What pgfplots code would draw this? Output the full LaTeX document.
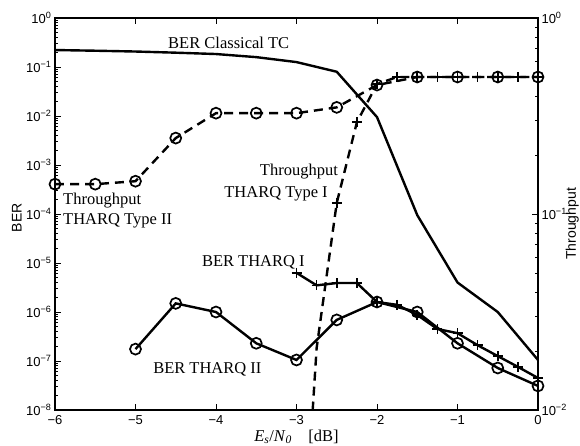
\documentclass[border=0pt]{standalone}
\usepackage{fontspec}
\setmainfont{Liberation Serif}
\setsansfont{Liberation Sans}
\usepackage{pgfplots}
\pgfplotsset{compat=1.18}

\pgfplotsset{
  myaxis/.style={
    scale only axis, width=483pt, height=392pt,
    xmin=-6, xmax=0,
    tick align=inside,
    major tick length=6pt, minor tick length=3pt,
    every tick/.style={black, line width=0.9pt},
    axis line style={line width=1.4pt},
    tick label style={font=\sffamily\fontsize{13}{13}\selectfont},
  },
  solidline/.style={black, line width=2.4pt},
  dashline/.style={black, line width=2.4pt, dash pattern=on 9pt off 6pt},
}
\newcommand{\lbl}{\fontsize{16.5}{18}\selectfont}

\begin{document}
\begin{tikzpicture}
% left axis: BER
\begin{semilogyaxis}[myaxis,
  ymin=1e-8, ymax=1,
  xtick={-6,-5,-4,-3,-2,-1,0},
  xticklabels={−6,−5,−4,−3,−2,−1,0},
  xticklabel style={yshift=-2pt},
  ytick={1e-8,1e-7,1e-6,1e-5,1e-4,1e-3,1e-2,1e-1,1},
  yticklabels={10\textsuperscript{−8},10\textsuperscript{−7},10\textsuperscript{−6},10\textsuperscript{−5},10\textsuperscript{−4},10\textsuperscript{−3},10\textsuperscript{−2},10\textsuperscript{−1},10\textsuperscript{0}},
  ytick pos=left, xtick pos=both,
  ylabel={BER},
  ylabel style={font=\sffamily\fontsize{14}{14}\selectfont, at={(axis description cs:-0.079,0.49)}, anchor=center},
  xlabel={\textit{E}\textsubscript{\textit{s}}/\textit{N}\textsubscript{\textit{0}}\quad[dB]},
  xlabel style={font=\lbl, at={(axis description cs:0.5,-0.068)}, anchor=center},
]
\coordinate (ll) at (rel axis cs:0,0);
\coordinate (ur) at (rel axis cs:1,1);

% BER classical TC
\addplot[solidline] coordinates {
(-6,0.222) (-5.5,0.215) (-5,0.207) (-4.5,0.196) (-4,0.184) (-3.5,0.159) (-3,0.126)
(-2.5,0.08) (-2,0.0095) (-1.5,9.5e-5) (-1,4e-6) (-0.5,1e-6) (0,1.05e-7)};

% BER THARQ I
\addplot[solidline, mark=+, mark size=5pt, mark options={line width=1.7pt}] coordinates {
(-3,6.3e-6) (-2.75,3.5e-6) (-2.5,3.9e-6) (-2.25,3.9e-6) (-2,1.6e-6) (-1.75,1.4e-6)
(-1.5,8.7e-7) (-1.25,4.5e-7) (-1,3.7e-7) (-0.75,2.1e-7) (-0.5,1.26e-7) (-0.25,7.6e-8) (0,4.5e-8)};

% BER THARQ II
\addplot[solidline, mark=o, mark size=5.5pt, mark options={fill=white, line width=1.7pt}] coordinates {
(-5,1.75e-7) (-4.5,1.5e-6) (-4,1.0e-6) (-3.5,2.3e-7) (-3,1.05e-7) (-2.5,6.9e-7)
(-2,1.6e-6) (-1.5,1.0e-6) (-1,2.3e-7) (-0.5,7.2e-8) (0,3.1e-8)};

\node[font=\lbl, anchor=base west, inner sep=0pt] at (rel axis cs:0.234,0.923) {BER Classical TC};
\node[font=\lbl, anchor=base west, inner sep=0pt] at (rel axis cs:0.0166,0.523) {Throughput};
\node[font=\lbl, anchor=base west, inner sep=0pt] at (rel axis cs:0.0166,0.472) {THARQ Type II};
\node[font=\lbl, anchor=base east, inner sep=0pt] at (rel axis cs:0.586,0.599) {Throughput};
\node[font=\lbl, anchor=base east, inner sep=0pt] at (rel axis cs:0.565,0.543) {THARQ Type I};
\node[font=\lbl, anchor=base west, inner sep=0pt] at (rel axis cs:0.304,0.365) {BER THARQ I};
\node[font=\lbl, anchor=base west, inner sep=0pt] at (rel axis cs:0.203,0.092) {BER THARQ II};
\end{semilogyaxis}

% right axis: throughput
\begin{semilogyaxis}[myaxis,
  ymin=0.01, ymax=1,
  axis x line=none, axis y line*=right,
  ytick={0.01,0.1,1},
  yticklabels={10\textsuperscript{−2},10\textsuperscript{−1},10\textsuperscript{0}},
  ylabel={Throughput},
  ylabel style={font=\sffamily\fontsize{14}{14}\selectfont, inner sep=0pt, at={(axis description cs:1.071,0.475)}, anchor=center},
]
% throughput THARQ type II
\addplot[dashline, mark=o, mark size=5.5pt, mark options={solid, line width=1.7pt, fill=none}] coordinates {
(-6,0.142) (-5.5,0.142) (-5,0.147) (-4.5,0.244) (-4,0.327) (-3.5,0.327) (-3,0.327)
(-2.5,0.35) (-2,0.455) (-1.5,0.5) (-1,0.5) (-0.5,0.5) (0,0.5)};

% throughput THARQ type I
\addplot[dashline, mark=+, mark size=5pt, mark indices={2,...,13}, mark options={solid, line width=1.7pt}] coordinates {
(-3,5e-4) (-2.75,0.0207) (-2.5,0.114) (-2.25,0.294) (-2,0.46) (-1.75,0.5) (-1.5,0.5)
(-1.25,0.5) (-1,0.5) (-0.75,0.5) (-0.5,0.5) (-0.25,0.5) (0,0.5)};
\end{semilogyaxis}

\pgfresetboundingbox
\path[use as bounding box] ([xshift=-55pt,yshift=-35pt]ll) rectangle ([xshift=42pt,yshift=18pt]ur);
\end{tikzpicture}
\end{document}
